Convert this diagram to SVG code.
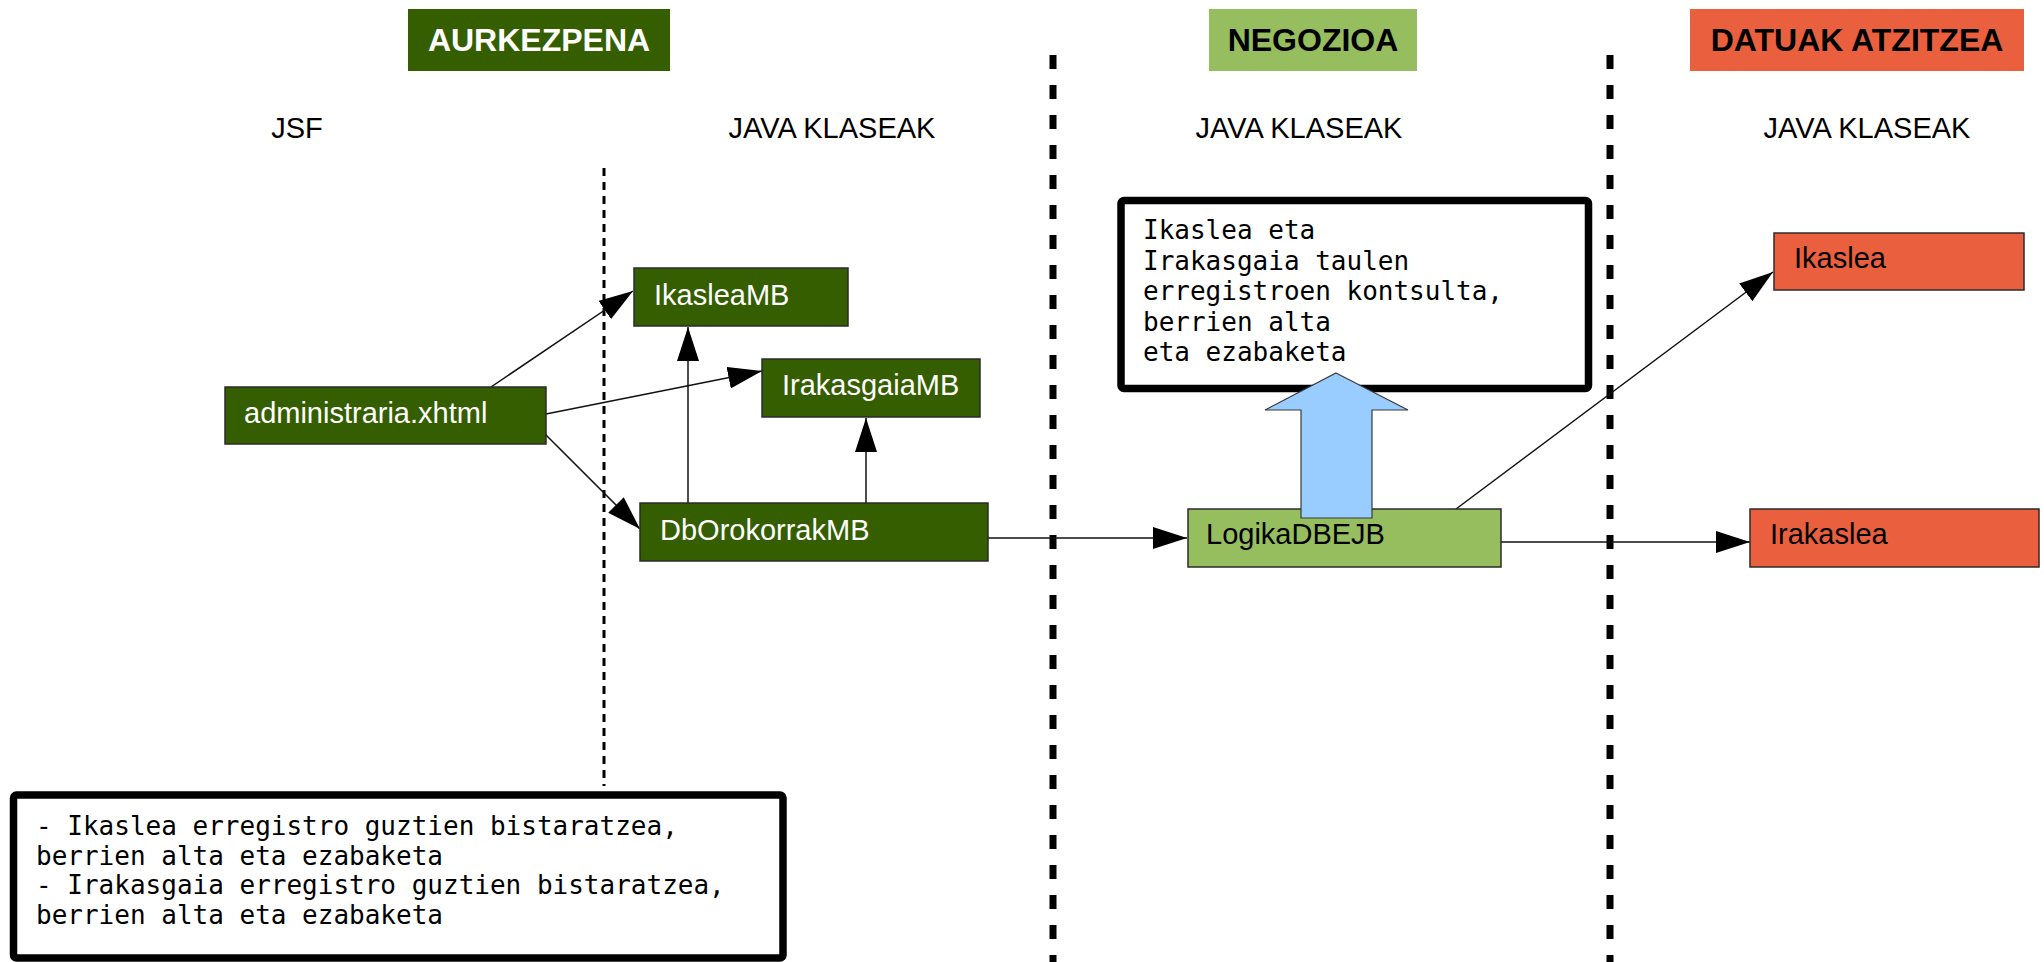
<svg xmlns="http://www.w3.org/2000/svg" width="2044" height="962" viewBox="0 0 2044 962">
  <style>
    .hdr { font-family: "Liberation Sans", Arial, sans-serif; font-size: 32px; font-weight: bold; text-anchor: middle; }
    .sub { font-family: "Liberation Sans", Arial, sans-serif; font-size: 29px; fill: #000; text-anchor: middle; }
    .lbl { font-family: "Liberation Sans", Arial, sans-serif; font-size: 29px; }
    .mono { font-family: "DejaVu Sans Mono", "Liberation Mono", monospace; font-size: 26px; fill: #000; }
    .dk { fill: #355E00; stroke: #2b2b2b; stroke-width: 1.5; }
    .lg { fill: #97BE5E; stroke: #2b2b2b; stroke-width: 1.5; }
    .rd { fill: #EA603E; stroke: #2b2b2b; stroke-width: 1.5; }
    .conn { stroke: #111; stroke-width: 1.5; fill: none; marker-end: url(#ah); }
    .note { fill: #fff; stroke: #000; stroke-width: 7.5; }
  </style>
  <defs>
    <marker id="ah" markerUnits="userSpaceOnUse" markerWidth="34" markerHeight="22" refX="34" refY="11" orient="auto">
      <path d="M0,0 L34,11 L0,22 z" fill="#000"/>
    </marker>
  </defs>
  <rect width="2044" height="962" fill="#fff"/>

  <g id="headers">
    <rect x="408" y="9" width="262" height="62" fill="#355E00"/>
    <text class="hdr" x="539" y="51" fill="#fff">AURKEZPENA</text>
    <rect x="1209" y="9" width="208" height="62" fill="#97BE5E"/>
    <text class="hdr" x="1313" y="51" fill="#000">NEGOZIOA</text>
    <rect x="1690" y="9" width="334" height="62" fill="#EA603E"/>
    <text class="hdr" x="1857" y="51" fill="#000">DATUAK ATZITZEA</text>
  </g>

  <g id="subheaders">
    <text class="sub" x="297" y="138">JSF</text>
    <text class="sub" x="832" y="138">JAVA KLASEAK</text>
    <text class="sub" x="1299" y="138">JAVA KLASEAK</text>
    <text class="sub" x="1867" y="138">JAVA KLASEAK</text>
  </g>

  <g id="separators">
    <line x1="604" y1="168" x2="604" y2="786" stroke="#000" stroke-width="3" stroke-dasharray="8 6"/>
    <line x1="1053" y1="55" x2="1053" y2="962" stroke="#000" stroke-width="7" stroke-dasharray="14 16"/>
    <line x1="1610" y1="55" x2="1610" y2="962" stroke="#000" stroke-width="7" stroke-dasharray="14 16"/>
  </g>

  <g id="note-negozioa">
    <rect class="note" x="1121" y="200.5" width="467.5" height="188" rx="3"/>
    <text class="mono">
      <tspan x="1143" y="239">Ikaslea eta</tspan>
      <tspan x="1143" y="269.5">Irakasgaia taulen</tspan>
      <tspan x="1143" y="300">erregistroen kontsulta,</tspan>
      <tspan x="1143" y="330.5">berrien alta</tspan>
      <tspan x="1143" y="361">eta ezabaketa</tspan>
    </text>
  </g>

  <g id="note-aurkezpena">
    <rect class="note" x="13.5" y="795" width="769.5" height="163" rx="3"/>
    <text class="mono">
      <tspan x="36" y="835">- Ikaslea erregistro guztien bistaratzea,</tspan>
      <tspan x="36" y="864.5">berrien alta eta ezabaketa</tspan>
      <tspan x="36" y="894">- Irakasgaia erregistro guztien bistaratzea,</tspan>
      <tspan x="36" y="923.5">berrien alta eta ezabaketa</tspan>
    </text>
  </g>

  <g id="connectors">
    <line class="conn" x1="491" y1="387" x2="633" y2="291"/>
    <line class="conn" x1="546" y1="414" x2="762" y2="371"/>
    <line class="conn" x1="545" y1="434" x2="640" y2="529"/>
    <line class="conn" x1="688" y1="503" x2="688" y2="327"/>
    <line class="conn" x1="866" y1="503" x2="866" y2="418"/>
    <line class="conn" x1="988" y1="538" x2="1187" y2="538"/>
    <line class="conn" x1="1456" y1="509" x2="1773" y2="272"/>
    <line class="conn" x1="1501" y1="542" x2="1750" y2="542"/>
  </g>

  <g id="administraria">
    <rect class="dk" x="225" y="387" width="321" height="57"/>
    <text class="lbl" x="244" y="423" fill="#fff">administraria.xhtml</text>
  </g>
  <g id="IkasleaMB">
    <rect class="dk" x="634" y="268" width="214" height="58"/>
    <text class="lbl" x="654" y="305" fill="#fff">IkasleaMB</text>
  </g>
  <g id="IrakasgaiaMB">
    <rect class="dk" x="762" y="359" width="218" height="58"/>
    <text class="lbl" x="782" y="395" fill="#fff">IrakasgaiaMB</text>
  </g>
  <g id="DbOrokorrakMB">
    <rect class="dk" x="640" y="503" width="348" height="58"/>
    <text class="lbl" x="660" y="540" fill="#fff">DbOrokorrakMB</text>
  </g>
  <g id="LogikaDBEJB">
    <rect class="lg" x="1188" y="509" width="313" height="58"/>
    <text class="lbl" x="1206" y="544" fill="#000">LogikaDBEJB</text>
  </g>
  <g id="Ikaslea">
    <rect class="rd" x="1774" y="233" width="250" height="57"/>
    <text class="lbl" x="1794" y="268" fill="#000">Ikaslea</text>
  </g>
  <g id="Irakaslea">
    <rect class="rd" x="1750" y="509" width="289" height="58"/>
    <text class="lbl" x="1770" y="544" fill="#000">Irakaslea</text>
  </g>

  <g id="block-arrow">
    <polygon points="1336,373 1408,410 1372,410 1372,518 1301,518 1301,410 1265,410" fill="#99CCFF" stroke="#3a3a3a" stroke-width="1.2"/>
  </g>
</svg>
